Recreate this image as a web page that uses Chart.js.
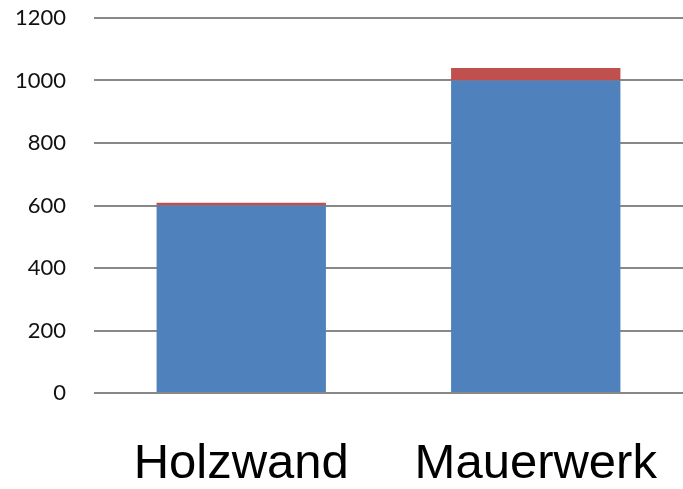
<!DOCTYPE html>
<html>
<head>
<meta charset="utf-8">
<script src="https://cdn.jsdelivr.net/npm/chart.js@4"></script>
<style>
    html, body { margin: 0; padding: 0; background: #fff; }
    #wrap { width: 683px; height: 489px; }
</style>
</head>
<body>
<div id="wrap"><canvas id="chart"></canvas></div>
<script>
const categories = ['Holzwand', 'Mauerwerk'];
const baseValues = [600, 1000];
const topValues = [9, 40];
const yTicks = [0, 200, 400, 600, 800, 1000, 1200];

const ctx = document.getElementById('chart').getContext('2d');
new Chart(ctx, {
    type: 'bar',
    data: {
        labels: categories,
        datasets: [
            { data: baseValues, backgroundColor: '#4F81BD' },
            { data: topValues, backgroundColor: '#C0504D' },
        ],
    },
    options: {
        responsive: true,
        maintainAspectRatio: false,
        animation: false,
        layout: { padding: { top: 0, left: 0, bottom: 0, right: -4 } },
        plugins: { legend: { display: false }, tooltip: { enabled: false } },
        datasets: { bar: { barPercentage: 1, categoryPercentage: 0.575 } },
        scales: {
            x: {
                stacked: true,
                grid: { display: false, drawTicks: false },
                border: { display: false },
                ticks: {
                    color: '#000',
                    padding: 42,
                    font: { family: 'Liberation Sans', size: 49 },
                },
                afterFit(scale) {
                    scale.height = 96;
                    scale.paddingLeft = 0;
                    scale.paddingRight = 0;
                },
            },
            y: {
                stacked: true,
                min: 0,
                max: 1200,
                afterBuildTicks(scale) { scale.ticks = yTicks.map(v => ({ value: v })); },
                grid: { color: '#888', lineWidth: 2, drawTicks: false },
                border: { display: false },
                ticks: {
                    color: '#111',
                    padding: 28,
                    font: { family: 'Lato', size: 22 },
                    callback: v => String(v),
                },
                afterFit(scale) {
                    scale.width = 94;
                    scale.paddingTop = 18;
                    scale.paddingBottom = 0;
                },
            },
        },
    },
});
</script>
</body>
</html>
